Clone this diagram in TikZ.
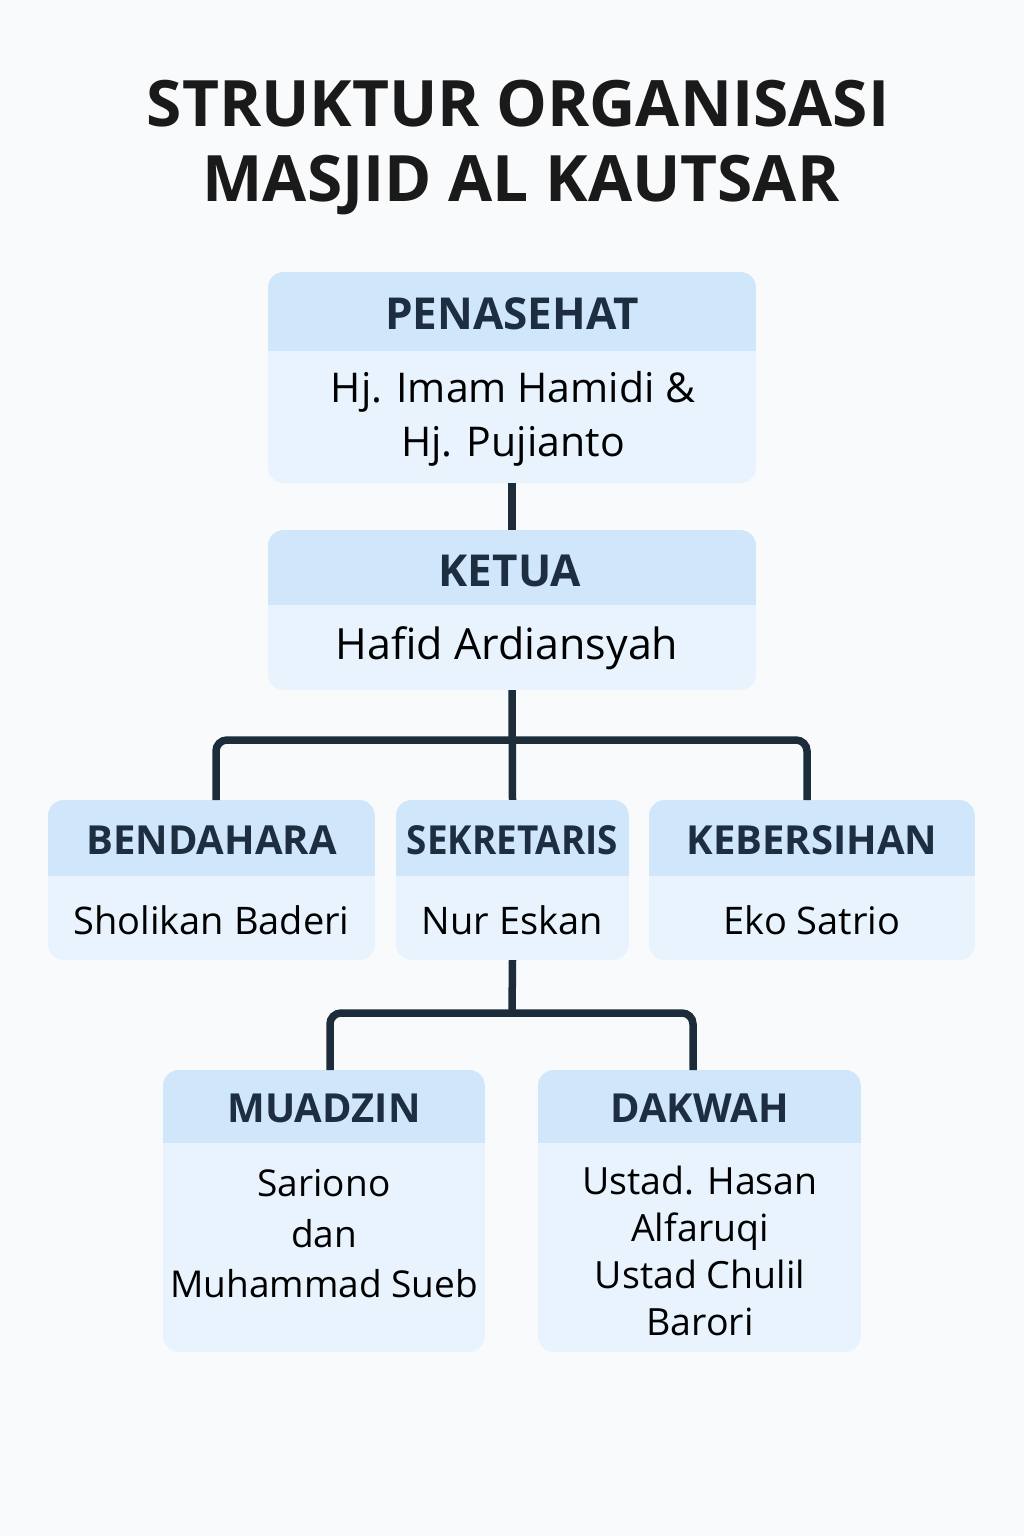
\documentclass[tikz,border=0pt]{standalone}
\usepackage{fontspec}
\setmainfont{Open Sans}
\usetikzlibrary{calc}
\definecolor{bgc}{HTML}{F9FAFB}
\definecolor{headfill}{HTML}{D0E6FB}
\definecolor{bodyfill}{HTML}{E8F3FD}
\definecolor{navy}{HTML}{1C2E40}
\definecolor{linec}{HTML}{1D2C3B}
\definecolor{titlec}{HTML}{1A1A1A}
\tikzset{
  headtext/.style={font=\bfseries\fontsize{40}{46}\selectfont, text=navy, inner sep=0pt, align=center},
  bodytext/.style={font=\fontsize{38}{54}\selectfont, text=black, inner sep=0pt, align=center},
  boxframe/.style={inner sep=0pt, draw=none},
  conn/.style={draw=linec, line width=7.5pt, rounded corners=11pt},
  titletext/.style={font=\bfseries\fontsize{64}{78}\selectfont, text=titlec, inner sep=0pt}
}
\newcommand\orgbox[8]{%
  \pgfmathsetmacro\bxc{(#2+#4)/2}%
  \pgfmathsetmacro\byc{(#3+#5)/2}%
  \pgfmathsetmacro\bw{#4-#2}%
  \pgfmathsetmacro\bh{#5-#3}%
  \pgfmathsetmacro\hyc{(#3+#6)/2+2}%
  \pgfmathsetmacro\tyc{(#6+#5)/2+2}%
  \begin{scope}
    \clip[rounded corners=16pt] (#2,#3) rectangle (#4,#5);
    \fill[bodyfill] (#2,#3) rectangle (#4,#5);
    \fill[headfill] (#2,#3) rectangle (#4,#6);
  \end{scope}
  \node[boxframe, minimum width=\bw pt, minimum height=\bh pt] (#1) at (\bxc,\byc) {};
  \ifx\relax#7\relax\else\node[headtext] (#1-t) at (\bxc,\hyc) {#7};\fi
  \ifx\relax#8\relax\else\node[bodytext] (#1-b) at (\bxc,\tyc) {#8};\fi
}
\begin{document}
\begin{tikzpicture}[x=1pt,y=-1pt]
\fill[bgc] (0,0) rectangle (1024,1536);
\useasboundingbox (0,0) rectangle (1024,1536);

\node[titletext] (t1) at (518,104) {STRUKTUR ORGANISASI};
\node[titletext] (t2) at (521,185) {MASJID AL KAUTSAR};

\orgbox{pen}{268}{272}{756}{483}{351}{}{}
\orgbox{ket}{268}{530}{756}{690}{605}{}{}
\orgbox{ben}{48}{800}{375}{960}{876}{BENDAHARA}{Sholikan Baderi}
\orgbox{sek}{396}{800}{629}{960}{876}{\scalebox{0.92}[1]{SEKRETARIS}}{Nur Eskan}
\orgbox{keb}{649}{800}{975}{960}{876}{KEBERSIHAN}{Eko Satrio}
\orgbox{mua}{163}{1070}{485}{1352}{1143}{MUADZIN}{}
\orgbox{dak}{538}{1070}{861}{1352}{1143}{DAKWAH}{}

\node[headtext, font=\bfseries\fontsize{44}{50}\selectfont] (pen-t) at (512,314) {PENASEHAT};
\node[bodytext, font=\fontsize{41}{54}\selectfont] (pen-b) at (513,419) {Hj. Imam Hamidi \&\\Hj. Pujianto};
\node[headtext, font=\bfseries\fontsize{44}{50}\selectfont] (ket-t) at (510,571) {KETUA};
\node[bodytext, font=\fontsize{43}{54}\selectfont] (ket-b) at (507,648) {Hafid Ardiansyah};
\node[bodytext, font=\fontsize{37}{50.5}\selectfont] (mua-b) at (324,1234) {Sariono\\dan\\Muhammad Sueb};
\node[bodytext, font=\fontsize{37.5}{47}\selectfont] (dak-b) at (700,1251) {Ustad. Hasan\\Alfaruqi\\Ustad Chulil\\Barori};

\coordinate (j1) at (512,740);
\coordinate (j2) at (512,1013);
\coordinate (benin) at (216,800);
\coordinate (kebin) at (807,800);
\coordinate (muain) at (330,1070);
\coordinate (dakin) at (693,1070);

\draw[conn] (pen.south) -- (ket.north);
\draw[conn] (ket.south) -- (sek.north);
\draw[conn] (benin) |- (j1) -| (kebin);
\draw[conn] (sek.south) -- (j2);
\draw[conn] (muain) |- (j2) -| (dakin);
\end{tikzpicture}
\end{document}
